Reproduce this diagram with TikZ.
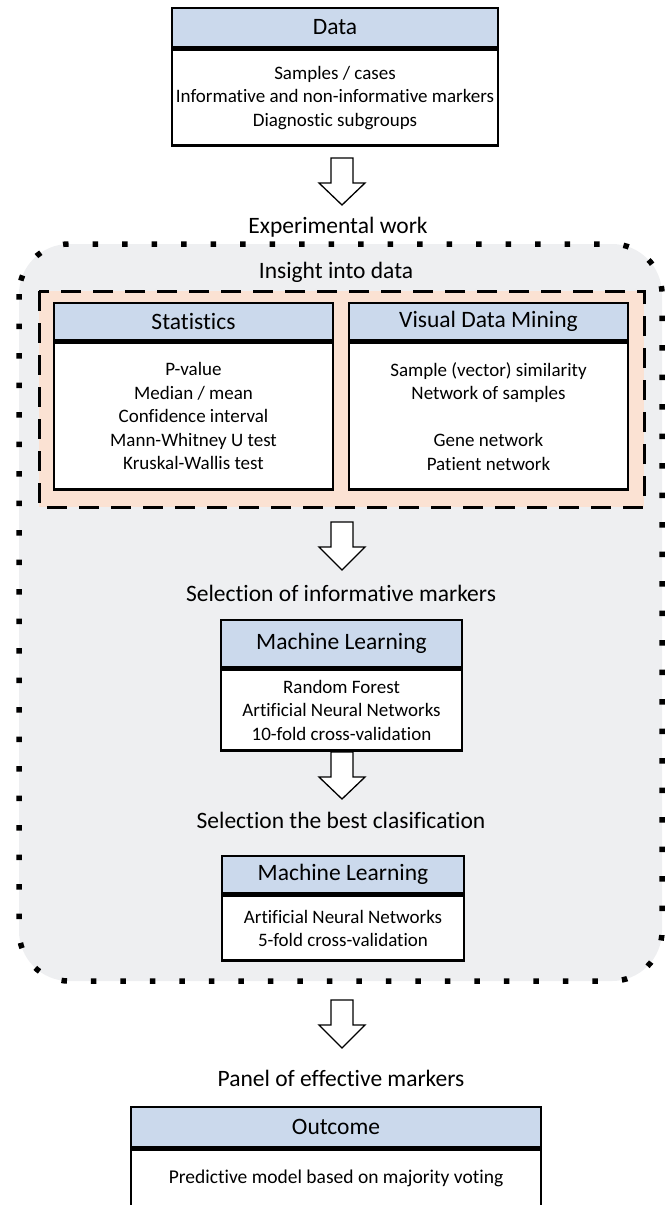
\documentclass[tikz,border=0pt]{standalone}
\usepackage{fontspec}
\setmainfont[Ligatures=NoCommon]{Carlito}
\definecolor{hdrblue}{HTML}{CBD9EC}
\definecolor{peach}{HTML}{FBE2D3}
\definecolor{greyfill}{HTML}{EEEFF1}
\newcommand\blockarr[3]{%
  \draw[line width=1.3pt, fill=white, line join=miter]
    (#1-11,#2) -- (#1+11,#2) -- (#1+11,#2+25) -- (#1+23,#2+25) -- (#1,#3)
    -- (#1-23,#2+25) -- (#1-11,#2+25) -- cycle;}
\tikzset{
  hdr/.style={draw, line width=2.8pt, fill=hdrblue, inner sep=0pt,
    font=\fontsize{23.5}{28}\selectfont},
  bodybox/.style={draw, line width=2.8pt, fill=white, inner sep=0pt, align=center,
    font=\fontsize{19}{23.5}\selectfont},
  lbl/.style={inner sep=0pt, font=\fontsize{23.5}{28}\selectfont}
}
\begin{document}
\begin{tikzpicture}[x=1pt,y=-1pt]
\useasboundingbox (0,0) rectangle (668,1205);
\clip (0,0) rectangle (668,1205);
% Data
\node[hdr, minimum width=326pt, minimum height=39pt] (datah) at (335,27.5) {Data};
\node[bodybox, minimum width=326pt, minimum height=96pt, anchor=north] (datab) at (datah.south)
  {Samples / cases\\Informative and non-informative markers\\Diagnostic subgroups};
\blockarr{342}{158}{205}
\node[lbl] (exp) at (338,227) {Experimental work};
% outer region
\draw[fill=greyfill, draw=none, rounded corners=50pt] (19,244) rectangle (662,981);
\draw[line width=5.5pt, dash pattern=on 5.5pt off 24pt, rounded corners=50pt] (19,244) rectangle (662,981);
\node[lbl] (ins) at (336,272) {Insight into data};
\draw[fill=peach, line width=3pt, dash pattern=on 20pt off 12pt] (39,291) rectangle (644,507);
% Statistics
\node[hdr, minimum width=279pt, minimum height=37pt] (stath) at (193.5,321.5) {Statistics};
\node[bodybox, minimum width=279pt, minimum height=147pt, anchor=north] (statb) at (stath.south)
  {P-value\\Median / mean\\Confidence interval\\Mann-Whitney U test\\Kruskal-Wallis test};
% Visual data mining
\node[hdr, minimum width=279pt, minimum height=37pt] (vish) at (488.5,321.5) {Visual Data Mining};
\node[bodybox, minimum width=279pt, minimum height=147pt, anchor=north] (visb) at (vish.south)
  {Sample (vector) similarity\\Network of samples\\~\\Gene network\\Patient network};
\blockarr{342}{522}{570}
\node[lbl] (sel1) at (341,593) {Selection of informative markers};
% ML 1
\node[hdr, minimum width=241pt, minimum height=47pt] (ml1h) at (341.5,643.5) {Machine Learning};
\node[bodybox, minimum width=241pt, minimum height=81pt, anchor=north] (ml1b) at (ml1h.south)
  {Random Forest\\Artificial Neural Networks\\10-fold cross-validation};
\blockarr{342}{752}{799}
\node[lbl] (sel2) at (341,820) {Selection the best clasification};
% ML 2
\node[hdr, minimum width=242pt, minimum height=37pt] (ml2h) at (343,874.5) {Machine Learning};
\node[bodybox, minimum width=242pt, minimum height=65pt, anchor=north] (ml2b) at (ml2h.south)
  {Artificial Neural Networks\\5-fold cross-validation};
\blockarr{342}{1000}{1048}
\node[lbl] (panel) at (341,1078) {Panel of effective markers};
% Outcome
\node[hdr, minimum width=410pt, minimum height=40pt] (outh) at (336,1127) {Outcome};
\node[bodybox, minimum width=410pt, minimum height=80pt, anchor=north] (outb) at (outh.south) {};
\node[inner sep=0pt, font=\fontsize{19.5}{23.5}\selectfont] (pred) at (336,1178) {Predictive model based on majority voting};
\end{tikzpicture}
\end{document}
